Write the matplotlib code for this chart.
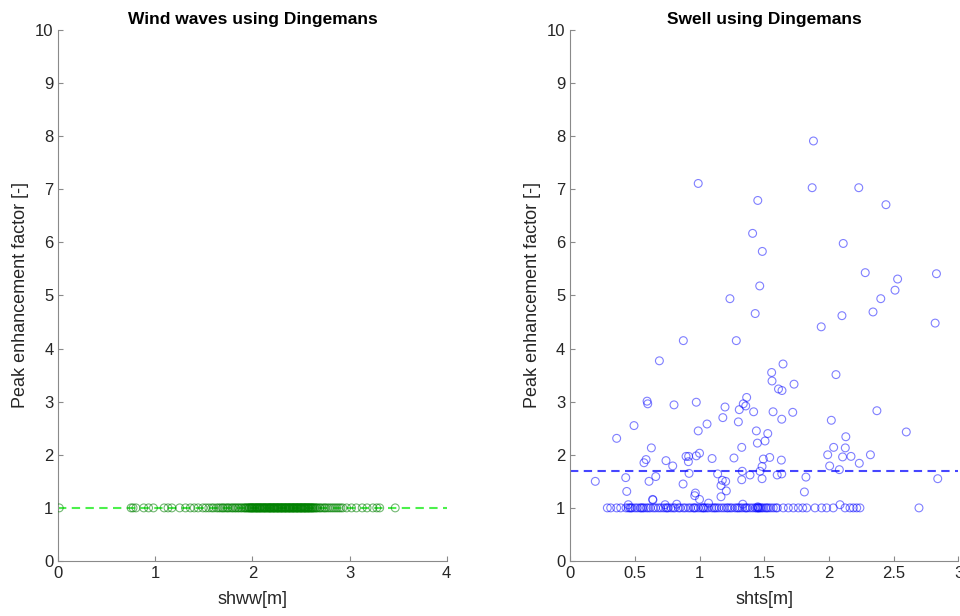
import matplotlib

matplotlib.use("Agg")
import matplotlib.pyplot as plt
import numpy as np

# Peak enhancement factor per record; wind-sea records all sit at gamma = 1.
SHWW = [
    0.01, 0.75, 0.77, 0.80, 0.88, 0.93, 0.98, 1.09, 1.13, 1.17, 1.25, 1.31,
    1.36, 1.40, 1.44, 1.49, 1.52, 1.55, 1.58, 1.60, 1.63, 1.65, 1.67, 1.69,
    1.70, 1.72, 1.74, 1.75, 1.77, 1.79, 1.80, 1.82, 1.83, 1.85, 1.86, 1.88,
    1.89, 1.91, 1.92, 1.93, 1.95, 1.96, 1.97, 1.98, 1.99, 2.00, 2.01, 2.02,
    2.03, 2.04, 2.05, 2.06, 2.07, 2.08, 2.09, 2.10, 2.11, 2.12, 2.13, 2.14,
    2.15, 2.16, 2.17, 2.18, 2.19, 2.20, 2.21, 2.22, 2.23, 2.24, 2.25, 2.26,
    2.27, 2.28, 2.29, 2.30, 2.31, 2.32, 2.33, 2.34, 2.35, 2.36, 2.37, 2.38,
    2.39, 2.40, 2.41, 2.42, 2.43, 2.44, 2.45, 2.46, 2.47, 2.48, 2.49, 2.50,
    2.51, 2.52, 2.53, 2.54, 2.55, 2.56, 2.57, 2.58, 2.59, 2.60, 2.61, 2.62,
    2.63, 2.64, 2.66, 2.67, 2.69, 2.70, 2.72, 2.74, 2.75, 2.77, 2.79, 2.81,
    2.83, 2.85, 2.87, 2.89, 2.91, 2.93, 2.97, 3.02, 3.07, 3.13, 3.18, 3.24,
    3.28, 3.31, 3.47,
    # second pass through the busiest part of the record
    1.94, 1.97, 2.00, 2.02, 2.05, 2.07, 2.10, 2.12, 2.15, 2.17, 2.19, 2.21,
    2.23, 2.25, 2.27, 2.29, 2.31, 2.33, 2.35, 2.37, 2.39, 2.41, 2.43, 2.45,
    2.47, 2.49, 2.51, 2.53, 2.55, 2.57, 2.60, 2.62, 2.65, 1.99, 2.04, 2.08,
    2.13, 2.18, 2.22, 2.26, 2.30, 2.34, 2.38, 2.42, 2.46, 2.50, 2.54, 2.58,
]
GAMMA_WW = [1.0] * len(SHWW)

# Swell records lifted above gamma = 1.
SHTS_PEAK = [
    1.88, 0.99, 1.87, 2.23, 1.45, 2.44, 1.41, 2.11, 1.485, 2.28, 2.83, 2.53,
    2.51, 1.465, 1.235, 2.40, 2.34, 1.43, 2.10, 2.82, 1.94, 0.875, 1.284, 0.69,
    1.645, 1.557, 2.054, 1.73, 1.56, 1.61, 1.637, 0.595, 0.60, 0.975, 0.803,
    1.364, 1.197, 1.338, 1.357, 1.307, 1.418, 1.568, 1.72, 2.37, 1.635, 2.018,
    1.18, 1.30, 1.058, 0.494, 0.36, 2.597, 0.99, 1.439, 1.527, 1.506, 1.447,
    2.13, 1.326, 0.628, 2.036, 2.126, 1.99, 2.32, 0.896, 0.916, 0.975, 1.00,
    1.097, 1.266, 1.542, 1.493, 1.632, 2.105, 2.17, 2.234, 0.587, 0.571, 0.741,
    0.793, 0.914, 1.483, 2.005, 2.08, 1.467, 1.33, 0.195, 0.43, 0.61, 0.662,
    0.919, 1.14, 1.39, 1.60, 1.635, 1.822, 1.326, 1.483, 1.176, 1.202, 2.84,
    0.438, 0.873, 1.166, 1.207, 1.81, 0.968, 0.963, 1.166, 0.638, 1.00, 0.45,
    0.64, 0.734, 0.824, 1.07, 1.334, 2.085, 1.45,
]
GAMMA_PEAK = [
    7.91, 7.11, 7.03, 7.03, 6.79, 6.71, 6.17, 5.98, 5.83, 5.43, 5.41, 5.31,
    5.10, 5.18, 4.94, 4.94, 4.69, 4.66, 4.62, 4.48, 4.41, 4.15, 4.15, 3.77,
    3.71, 3.55, 3.51, 3.33, 3.39, 3.24, 3.21, 3.01, 2.96, 2.99, 2.94, 3.08,
    2.90, 2.96, 2.92, 2.85, 2.81, 2.81, 2.80, 2.83, 2.67, 2.65, 2.70, 2.62,
    2.58, 2.55, 2.31, 2.43, 2.45, 2.45, 2.40, 2.26, 2.22, 2.34, 2.14, 2.13,
    2.14, 2.13, 2.00, 2.00, 1.97, 1.97, 1.98, 2.03, 1.93, 1.94, 1.95, 1.92,
    1.90, 1.96, 1.97, 1.84, 1.91, 1.85, 1.89, 1.79, 1.87, 1.78, 1.79, 1.72,
    1.69, 1.69, 1.50, 1.57, 1.50, 1.59, 1.65, 1.64, 1.62, 1.62, 1.64, 1.58,
    1.53, 1.55, 1.52, 1.50, 1.55, 1.31, 1.45, 1.42, 1.32, 1.30, 1.28, 1.23,
    1.21, 1.16, 1.16, 1.06, 1.15, 1.06, 1.07, 1.09, 1.07, 1.06, 1.02,
]

# Swell records at gamma = 1.
SHTS_ONE = [
    0.288, 0.314, 0.36, 0.391, 0.432, 0.463, 0.502, 0.541, 0.571, 0.605,
    0.643, 0.682, 0.721, 0.759, 0.798, 0.837, 0.875, 0.914, 0.952, 0.991,
    1.025, 1.055, 1.094, 1.133, 1.171, 1.21, 1.236, 1.274, 1.313, 1.351,
    1.39, 1.429, 1.454, 1.493, 1.532, 1.57, 1.601, 1.647, 1.686, 1.725,
    1.763, 1.797, 1.828, 1.892, 1.943, 1.982, 2.033, 2.124, 2.162, 2.188,
    2.214, 2.239, 2.695,
    0.45, 0.48, 0.52, 0.56, 0.59, 0.62, 0.66, 0.70, 0.74, 0.78, 0.81, 0.85,
    0.89, 0.93, 0.97, 1.01, 1.04, 1.07, 1.11, 1.15, 1.19, 1.25, 1.29, 1.33,
    1.37, 1.41, 1.44, 1.47, 1.51, 1.55, 1.59, 0.47, 0.55, 0.75, 0.96, 1.03,
    1.12, 1.22, 1.30, 1.36, 1.45, 1.46, 1.48, 1.52,
]

SHTS = SHTS_PEAK + SHTS_ONE
GAMMA_SW = GAMMA_PEAK + [1.0] * len(SHTS_ONE)

MEAN_WW = 1.0
MEAN_SW = 1.70

plt.rcParams.update({
    "font.family": ["Liberation Sans", "DejaVu Sans"],
    "font.size": 11,
    "axes.edgecolor": "#8a8a8a",
    "axes.linewidth": 0.8,
    "xtick.color": "#8a8a8a",
    "ytick.color": "#8a8a8a",
    "xtick.labelcolor": "#262626",
    "ytick.labelcolor": "#262626",
    "xtick.direction": "in",
    "ytick.direction": "in",
    "xtick.major.size": 3.5,
    "ytick.major.size": 3.5,
    "xtick.labelsize": 12,
    "ytick.labelsize": 12,
})


def matlab_axes(ax, xmax, xticks, xticklabels, xlabel, title):
    ax.set_xlim(0, xmax)
    ax.set_ylim(0, 10)
    ax.set_xticks(xticks)
    ax.set_xticklabels(xticklabels)
    ax.set_yticks(range(0, 11))
    ax.spines[["top", "right"]].set_visible(False)
    ax.set_xlabel(xlabel, fontsize=13, color="#262626", labelpad=7)
    ax.set_ylabel("Peak enhancement factor [-]", fontsize=13, color="#262626",
                  labelpad=4)
    ax.set_title(title, fontsize=12.5, fontweight="bold", pad=4)


fig = plt.figure(figsize=(9.6, 6.16), dpi=100)
ax1 = fig.add_axes([0.0607, 0.0893, 0.4046, 0.862])
ax2 = fig.add_axes([0.5938, 0.0893, 0.4046, 0.862])

# wind waves
ax1.scatter(SHWW, GAMMA_WW, s=32, facecolors="none", edgecolors=(0, 0.5, 0, 0.55),
            linewidths=0.8, zorder=3)
ax1.plot([0, 4], [MEAN_WW, MEAN_WW], color="#4cf04c", lw=1.5, dashes=(4, 2.6),
         zorder=2)
matlab_axes(ax1, 4, [0, 1, 2, 3, 4], ["0", "1", "2", "3", "4"], "shww[m]",
            "Wind waves using Dingemans")

# swell
ax2.scatter(SHTS, GAMMA_SW, s=32, facecolors="none", edgecolors=(0, 0, 1, 0.5),
            linewidths=0.8, zorder=3)
ax2.plot([0, 3], [MEAN_SW, MEAN_SW], color="#4646ff", lw=1.5, dashes=(4, 2.6),
         zorder=2)
xt = np.arange(0, 3.01, 0.5)
matlab_axes(ax2, 3, xt, ["0", "0.5", "1", "1.5", "2", "2.5", "3"], "shts[m]",
            "Swell using Dingemans")

fig.savefig("out.png", dpi=100)
